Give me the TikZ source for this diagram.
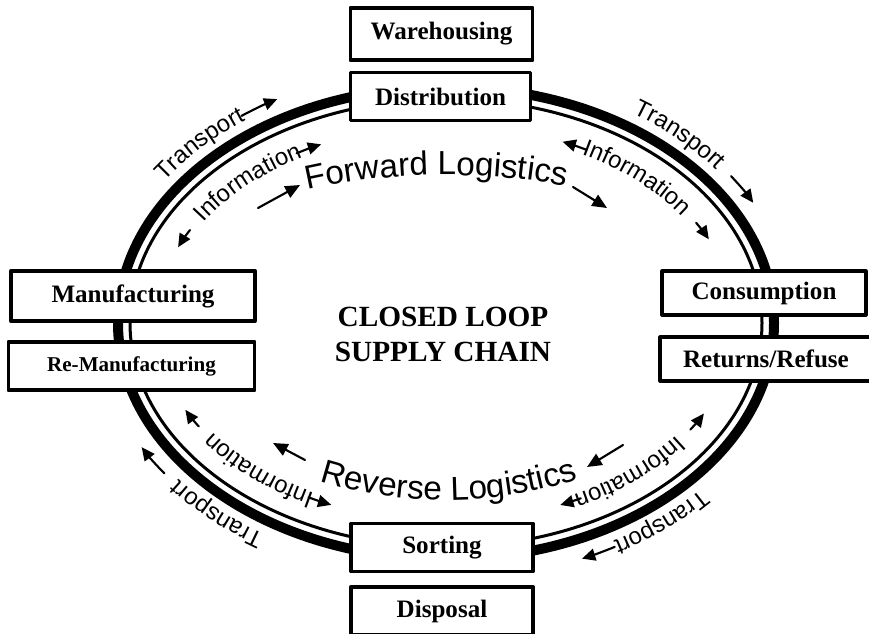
\documentclass[tikz,border=0pt]{standalone}
\usepackage{fontspec}
\setmainfont{Liberation Serif}
\setsansfont{Liberation Sans}
\usetikzlibrary{arrows.meta,decorations.text}

\newcommand{\flowfont}{\sffamily\fontsize{10.2}{12}\selectfont}
\newcommand{\logfont}{\sffamily\fontsize{14.2}{17}\selectfont}

% testo lungo un arco d'ellisse: A, B, angolo iniziale, angolo finale, testo
\newcommand{\arclabel}[5]{%
  \path[decorate, decoration={text along path, text align=center,
      text={|\flowfont|#5}}]
    ({\cx+#1*cos(#3)},{\cy+#2*sin(#3)})
    arc[start angle=#3, end angle=#4, x radius=#1, y radius=#2];}

% freccia lungo un arco d'ellisse
\newcommand{\arcarrow}[4]{%
  \draw[flow] ({\cx+#1*cos(#3)},{\cy+#2*sin(#3)})
    arc[start angle=#3, end angle=#4, x radius=#1, y radius=#2];}

\begin{document}
\begin{tikzpicture}[
    x=0.15mm,
    y=0.15mm,
    line cap=round,
    line join=round,
    stage/.style={draw, line width=1.6pt, fill=white, inner sep=0pt,
        font=\bfseries\fontsize{10.7}{13}\selectfont},
    flow/.style={line width=0.32mm, -{Triangle[length=2mm,width=1.8mm]}},
    bigflow/.style={line width=0.32mm, -{Triangle[length=2.2mm,width=1.9mm]}}
]

% Parametri
\def\cx{446}
\def\cy{310}

\useasboundingbox (0,0) rectangle (869,633);
\clip (0,0) rectangle (869,633);

% Anello
\draw[line width=1.5mm] (\cx,\cy) ellipse[x radius=328, y radius=236];
\draw[line width=0.45mm] (\cx,\cy) ellipse[x radius=316, y radius=224];

% Riquadri
\node[stage, minimum width=27.3mm, minimum height=7.9mm] (wareh) at (441.5,599) {Warehousing};
\node[stage, minimum width=27mm, minimum height=7.2mm] (distr) at (440.5,536.5) {Distribution};
\node[stage, minimum width=36.5mm, minimum height=7.6mm] (manuf) at (133,337) {Manufacturing};
\node[stage, minimum width=36.9mm, minimum height=7.3mm,
      font=\bfseries\fontsize{9}{11}\selectfont] (reman) at (131.5,267) {Re-Manufacturing};
\node[stage, minimum width=30.5mm, minimum height=6.5mm] (consum) at (764,340) {Consumption};
\node[stage, minimum width=31.7mm, minimum height=6.5mm] (returns) at (766,274) {Returns/Refuse};
\node[stage, minimum width=27.2mm, minimum height=7.2mm] (sorting) at (442,85.5) {Sorting};
\node[stage, minimum width=27.2mm, minimum height=7.3mm] (disposal) at (442,22) {Disposal};

% Titolo
\node[font=\bfseries\fontsize{12.5}{14.9}\selectfont, align=center] (title)
    at (443,299) {CLOSED LOOP\\SUPPLY CHAIN};

% Transport (esterno)
\arclabel{342}{250}{162}{112}{Transport}
\arclabel{342}{250}{71}{21}{Transport}
\arclabel{342}{250}{-25}{-75}{Transport}
\arclabel{342}{250}{252}{202}{Transport}
\arcarrow{348}{256}{126}{119}
\arcarrow{348}{256}{35}{28}
\arcarrow{348}{256}{-61}{-67}
\arcarrow{348}{256}{216}{209}

% Information (interno)
\arclabel{284}{192}{166.5}{106.5}{Information}
\arclabel{284}{192}{75.5}{15.5}{Information}
\arclabel{284}{192}{-17.5}{-77.5}{Information}
\arclabel{284}{192}{256.5}{196.5}{Information}
\arcarrow{290}{198}{152}{157.5}
\arcarrow{290}{198}{121}{115.5}
\arcarrow{290}{198}{61}{66.3}
\arcarrow{290}{198}{30.4}{25}
\arcarrow{290}{198}{-32.6}{-27.2}
\arcarrow{290}{198}{-62.3}{-66.8}
\arcarrow{290}{198}{241.7}{246.7}
\arcarrow{290}{198}{211.5}{206}

% Forward / Reverse Logistics
\path[decorate, decoration={text along path, text align=center,
    text={|\logfont|Forward Logistics}}]
  ({\cx+317*cos(142.3)},{\cy+148*sin(142.3)})
  arc[start angle=142.3, end angle=42.3, x radius=317, y radius=148];
\path[decorate, decoration={text along path, text align=center,
    text={|\logfont|Reverse Logistics}}]
  ({\cx+280*cos(215.8)},{\cy+177*sin(215.8)})
  arc[start angle=215.8, end angle=325.8, x radius=280, y radius=177];

\coordinate (fwdA) at (258,425);
\coordinate (fwdB) at (300,448);
\coordinate (fwdC) at (573,446);
\coordinate (fwdD) at (607,425);
\coordinate (revA) at (623,188);
\coordinate (revB) at (587,166);
\coordinate (revC) at (305,173);
\coordinate (revD) at (273,190);

\draw[bigflow] (fwdA) -- (fwdB);
\draw[bigflow] (fwdC) -- (fwdD);
\draw[bigflow] (revA) -- (revB);
\draw[bigflow] (revC) -- (revD);

\end{tikzpicture}
\end{document}
